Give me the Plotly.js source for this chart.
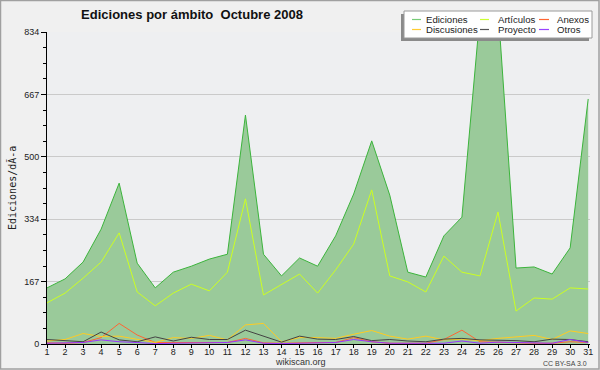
<!DOCTYPE html>
<html>
<head>
<meta charset="utf-8">
<script src="https://cdn.plot.ly/plotly-3.0.1.min.js"></script>
<style>html,body{margin:0;padding:0;background:#f0f0f0;}#chart{width:600px;height:370px;}</style>
</head>
<body>
<div id="chart"></div>
<script>
const days = Array.from({length: 31}, (_, i) => i + 1);
const ediciones = [150,174,219,307,430,216,150,192,208,227,240,612,240,182,230,208,289,401,543,398,192,179,289,339,880,900,203,206,187,257,655];
const articulos = [110,136,176,219,297,139,102,136,160,142,192,388,131,160,187,136,198,267,412,182,166,139,235,192,182,353,88,123,120,150,147];
const anexos = [3,2,4,17,55,24,4,4,4,4,4,15,3,2,4,4,4,17,6,2,2,2,12,37,6,4,2,2,2,6,4];
const discusiones = [8,12,28,20,21,13,4,17,15,23,11,51,55,6,17,17,15,26,36,21,13,21,11,13,9,15,20,23,12,35,28];
const proyecto = [12,8,6,32,11,6,19,8,18,12,12,37,20,5,21,13,12,20,9,12,8,6,13,15,11,11,9,6,13,12,6];
const otros = [2,2,4,11,6,4,1,2,2,2,4,11,2,1,2,2,4,12,6,2,2,2,2,8,2,5,4,2,2,12,4];
const yTicks = [0,167,334,500,667,834];
const seriesNames = ['Ediciones','Artículos','Anexos','Discusiones','Proyecto','Otros'];
const seriesColors = ['#3cb43c','#ccff22','#ff6633','#ffcc22','#444444','#9933ff'];
const legendColors = ['#77cc77','#ccff33','#ff6633','#ffcc33','#555555','#9944ff'];
const seriesData = [ediciones, articulos, anexos, discusiones, proyecto, otros];

const traces = seriesData.map((vals, i) => {
  const t = {x: days, y: vals, name: seriesNames[i], type: 'scatter', mode: 'lines',
    line: {color: seriesColors[i], width: 1}, showlegend: false, hoverinfo: 'skip'};
  if (i === 0) { t.fill = 'tozeroy'; t.fillcolor = '#9aca9a'; }
  return t;
});

// pixel -> paper helpers (plot area 47..590 x 32..344)
const L = 47, R = 590, T = 32, B = 344;
const px = p => (p - L) / (R - L);
const py = p => (B - p) / (B - T);

const shapes = [
  {type:'rect', xref:'paper', yref:'paper', x0:px(401), x1:px(589), y0:py(41), y1:py(14), fillcolor:'#8a8a8a', line:{width:0}},
  {type:'rect', xref:'paper', yref:'paper', x0:px(404), x1:px(592), y0:py(38), y1:py(11), fillcolor:'#ffffff', line:{color:'#9a9a9a', width:1}},
  {type:'rect', xref:'paper', yref:'paper', x0:px(0.5), x1:px(599), y0:py(369), y1:py(0.5), fillcolor:'rgba(0,0,0,0)', line:{color:'#a0a0a0', width:1.5}, layer:'below'}
];
const annotations = [];
const colLine = [[412,421],[480,489],[539,549]];
const colText = [424, 496, 555];
const rowY = [19.5, 29.5];
seriesNames.forEach((n, i) => {
  const c = i % 3, r = Math.floor(i / 3);
  shapes.push({type:'line', xref:'paper', yref:'paper', x0:px(colLine[c][0]), x1:px(colLine[c][1]), y0:py(rowY[r]), y1:py(rowY[r]), line:{color:legendColors[i], width:1.2}});
  annotations.push({xref:'paper', yref:'paper', x:px(colText[c]), y:py(rowY[r]), xanchor:'left', yanchor:'middle', text:n, showarrow:false, font:{family:'Liberation Sans, Arial', size:9.6, color:'#222'}});
});
annotations.push({xref:'paper', yref:'paper', x:px(12), y:0.5, textangle:-90, xanchor:'center', yanchor:'middle', text:'Ediciones/dÃ-a', showarrow:false, font:{family:'DejaVu Sans Mono', size:10, color:'#222'}});
annotations.push({xref:'paper', yref:'paper', x:px(300), y:py(362), xanchor:'center', yanchor:'middle', text:'wikiscan.org', showarrow:false, font:{family:'Liberation Sans, Arial', size:9, color:'#333'}});
annotations.push({xref:'paper', yref:'paper', x:px(589), y:py(363), xanchor:'right', yanchor:'middle', text:'CC BY-SA 3.0', showarrow:false, font:{family:'Liberation Sans, Arial', size:7, color:'#444'}});

const layout = {
  width: 600, height: 370,
  paper_bgcolor: '#f0f0f0', plot_bgcolor: '#eeeff1',
  margin: {l: L, r: 600 - R, t: T, b: 370 - B},
  showlegend: false,
  title: {text: 'Ediciones por ámbito\u00a0 Octubre 2008', x: 192/600, xanchor: 'center', xref: 'container', y: 1 - 14/370, yref: 'container', yanchor: 'middle',
    font: {family: 'Liberation Sans, Arial', size: 13, weight: 'bold', color: '#111'}},
  xaxis: {range: [1, 31.1], tickvals: days, ticktext: days.map(String), showgrid: false, zeroline: false,
    showline: true, linecolor: '#000', linewidth: 1, ticks: 'outside', ticklen: 3, tickcolor: '#000', ticklabelstandoff: -4,
    tickfont: {family: 'Liberation Sans, Arial', size: 9, color: '#222'}, fixedrange: true},
  yaxis: {range: [0, 834], tickvals: yTicks, ticktext: yTicks.map(String), showgrid: true, gridcolor: '#cacaca', gridwidth: 1,
    zeroline: false, showline: true, linecolor: '#000', linewidth: 1, ticks: 'outside', ticklen: 5, tickcolor: '#000',
    minor: {dtick: 41.7, tick0: 0, ticks: 'outside', ticklen: 3, tickcolor: '#000', showgrid: false},
    tickfont: {family: 'Liberation Sans, Arial', size: 9, color: '#222'}, fixedrange: true},
  shapes: shapes,
  annotations: annotations
};
Plotly.newPlot('chart', traces, layout, {staticPlot: true, displayModeBar: false});
</script>
</body>
</html>
